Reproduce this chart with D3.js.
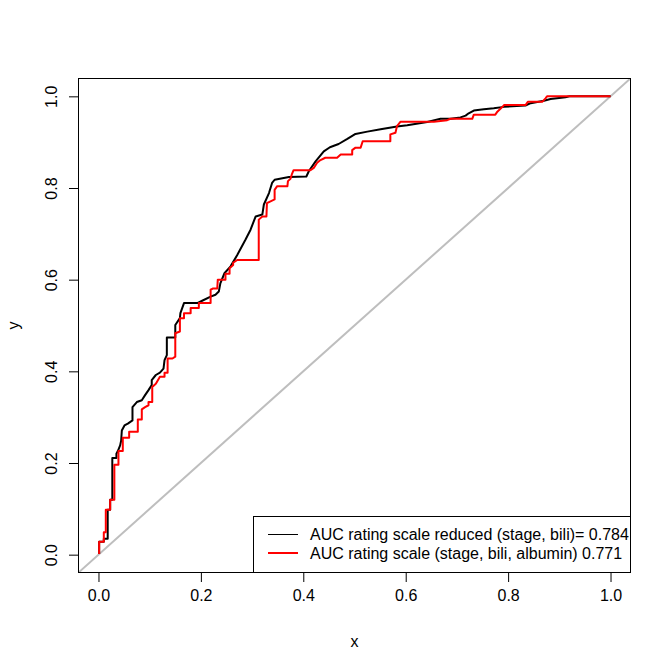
<!DOCTYPE html>
<html><head><meta charset="utf-8">
<script src="https://cdn.jsdelivr.net/npm/d3@7"></script>
<style>body{margin:0;background:#fff}svg{display:block}text{font-family:"Liberation Sans",Arial,sans-serif}</style>
</head><body><svg id="c" width="672" height="671"></svg>
<script>
// ROC curve: reduced model (stage, bili) — [fpr, tpr]
const rocReduced = [
 [0.0013,0.0015],[0.0013,0.028],[0.0104,0.028],[0.0104,0.035],[0.018,0.035],[0.018,0.098],[0.0228,0.098],[0.0228,0.12],
 [0.027,0.12],[0.027,0.211],[0.035,0.211],[0.035,0.22],[0.0378,0.226],[0.0423,0.2385],[0.0443,0.249],[0.0456,0.271],
 [0.0508,0.282],[0.0573,0.286],[0.0664,0.293],[0.0664,0.322],[0.0749,0.333],[0.0846,0.337],[0.091,0.348],[0.0977,0.359],
 [0.104,0.37],[0.104,0.381],[0.112,0.392],[0.12,0.397],[0.127,0.406],[0.129,0.4245],[0.1335,0.4355],[0.1335,0.474],
 [0.15,0.474],[0.15,0.501],[0.159,0.516],[0.16,0.527],[0.167,0.549],[0.193,0.549],[0.2025,0.554],[0.219,0.563],
 [0.2285,0.567],[0.235,0.574],[0.238,0.592],[0.246,0.614],[0.258,0.629],[0.271,0.654],[0.287,0.687],[0.297,0.709],
 [0.307,0.738],[0.32,0.742],[0.323,0.764],[0.333,0.789],[0.339,0.811],[0.344,0.818],[0.372,0.824],[0.406,0.825],
 [0.411,0.837],[0.424,0.858],[0.44,0.88],[0.452,0.889],[0.469,0.896],[0.486,0.907],[0.502,0.918],[0.525,0.923],
 [0.551,0.928],[0.583,0.934],[0.603,0.937],[0.642,0.944],[0.668,0.951],[0.6875,0.951],[0.707,0.954],[0.717,0.958],
 [0.723,0.963],[0.733,0.969],[0.7526,0.972],[0.772,0.974],[0.792,0.977],[0.834,0.98],[0.844,0.985],[0.87,0.9905],
 [0.883,0.994],[0.912,0.998],[0.92,1.0],[1.0,1.0]
];
// ROC curve: full model (stage, bili, albumin) — [fpr, tpr]
const rocFull = [
 [0.0013,0.0015],[0.0013,0.028],[0.0104,0.028],[0.0104,0.049],[0.0143,0.049],[0.0143,0.098],[0.0228,0.098],[0.0228,0.12],
 [0.031,0.12],[0.031,0.196],[0.039,0.196],[0.039,0.226],[0.0475,0.226],[0.0475,0.255],[0.0599,0.255],[0.0599,0.268],
 [0.0768,0.268],[0.0768,0.295],[0.0846,0.295],[0.0846,0.317],[0.091,0.322],[0.0977,0.326],[0.0977,0.333],[0.105,0.333],
 [0.105,0.366],[0.112,0.373],[0.12,0.388],[0.129,0.388],[0.129,0.397],[0.135,0.397],[0.135,0.428],[0.1445,0.428],
 [0.15,0.432],[0.15,0.483],[0.159,0.487],[0.159,0.516],[0.167,0.516],[0.167,0.527],[0.18,0.527],[0.18,0.538],
 [0.196,0.538],[0.196,0.549],[0.219,0.549],[0.219,0.578],[0.224,0.581],[0.232,0.581],[0.233,0.6],[0.248,0.6],
 [0.248,0.613],[0.256,0.613],[0.256,0.625],[0.263,0.632],[0.263,0.637],[0.271,0.643],[0.313,0.643],[0.313,0.731],
 [0.32,0.738],[0.328,0.738],[0.329,0.767],[0.336,0.771],[0.344,0.775],[0.344,0.796],[0.349,0.804],[0.369,0.804],
 [0.37,0.815],[0.375,0.82],[0.378,0.831],[0.381,0.839],[0.414,0.839],[0.4205,0.844],[0.427,0.855],[0.4336,0.861],
 [0.443,0.866],[0.466,0.866],[0.473,0.873],[0.4955,0.873],[0.4955,0.8826],[0.502,0.888],[0.512,0.888],[0.516,0.902],
 [0.57,0.902],[0.57,0.917],[0.58,0.9205],[0.583,0.935],[0.59,0.9446],[0.655,0.9446],[0.681,0.948],[0.6875,0.951],
 [0.73,0.951],[0.733,0.96],[0.775,0.96],[0.779,0.9665],[0.788,0.976],[0.792,0.981],[0.834,0.981],[0.8385,0.988],
 [0.8666,0.988],[0.873,0.9956],[0.876,1.0],[1.0,1.0]
];
const xTicks = [0, 0.2, 0.4, 0.6, 0.8, 1.0];
const yTicks = [0, 0.2, 0.4, 0.6, 0.8, 1.0];
const legendLabels = ["AUC rating scale reduced (stage, bili)= 0.784", "AUC rating scale (stage, bili, albumin) 0.771"];
const legendColors = ["#000000", "#ff0000"];
const legendWidths = [1, 2];

const svg = d3.select("#c");
const L = 78, R = 631, T = 78, B = 573;
const x = d3.scaleLinear().domain([-0.04, 1.04]).range([L, R]);
const y = d3.scaleLinear().domain([-0.04, 1.04]).range([B, T]);

svg.append("clipPath").attr("id","clip").append("rect").attr("x",L).attr("y",T).attr("width",R-L).attr("height",B-T);
const g = svg.append("g").attr("clip-path","url(#clip)");

// diagonal reference line
g.append("line").attr("x1",x(-0.04)).attr("y1",y(-0.04)).attr("x2",x(1.04)).attr("y2",y(1.04))
 .attr("stroke","#bebebe").attr("stroke-width",2);

const line = d3.line().x(d=>x(d[0])).y(d=>y(d[1]));
g.append("path").datum(rocReduced).attr("d",line).attr("fill","none").attr("stroke","#000").attr("stroke-width",2).attr("stroke-linejoin","round");
g.append("path").datum(rocFull).attr("d",line).attr("fill","none").attr("stroke","#ff0000").attr("stroke-width",2).attr("stroke-linejoin","round");

// box
svg.append("rect").attr("x",L+0.5).attr("y",T+0.5).attr("width",R-L-1).attr("height",B-T-1).attr("fill","none").attr("stroke","#000");

const fmt = d3.format(".1f");
const xa = svg.append("g").attr("transform",`translate(0,${B})`)
 .call(d3.axisBottom(x).tickValues(xTicks).tickFormat(fmt).tickSize(9).tickPadding(8));
const ya = svg.append("g").attr("transform",`translate(${L},0)`)
 .call(d3.axisLeft(y).tickValues(yTicks).tickFormat(fmt).tickSize(9));
[xa, ya].forEach(a=>{a.select(".domain").remove(); a.selectAll("line").attr("stroke","#000"); a.selectAll("text").attr("font-size",16).attr("fill","#000").attr("font-family","Liberation Sans, Arial, sans-serif");});
ya.selectAll(".tick text").each(function(){ d3.select(this).attr("text-anchor","middle").attr("dy","0").attr("transform","translate(-21,0) rotate(-90)").attr("y",0).attr("x",0); });

svg.append("text").attr("x",(L+R)/2).attr("y",647).attr("text-anchor","middle").attr("font-size",16).text("x");
svg.append("text").attr("transform",`translate(19,${(T+B)/2}) rotate(-90)`).attr("text-anchor","middle").attr("font-size",16).text("y");

// legend
const lg = svg.append("g");
lg.append("rect").attr("x",253.5).attr("y",516.5).attr("width",R-253.5-0.5).attr("height",B-516.5-0.5).attr("fill","#fff").attr("stroke","#000");
legendLabels.forEach((t,i)=>{
  const cy = i === 0 ? 534.5 : 553;
  lg.append("line").attr("x1",268).attr("x2",298).attr("y1",cy).attr("y2",cy).attr("stroke",legendColors[i]).attr("stroke-width",legendWidths[i]);
  lg.append("text").attr("x",310).attr("y",cy+5.5).attr("font-size",16).text(t);
});
</script></body></html>
